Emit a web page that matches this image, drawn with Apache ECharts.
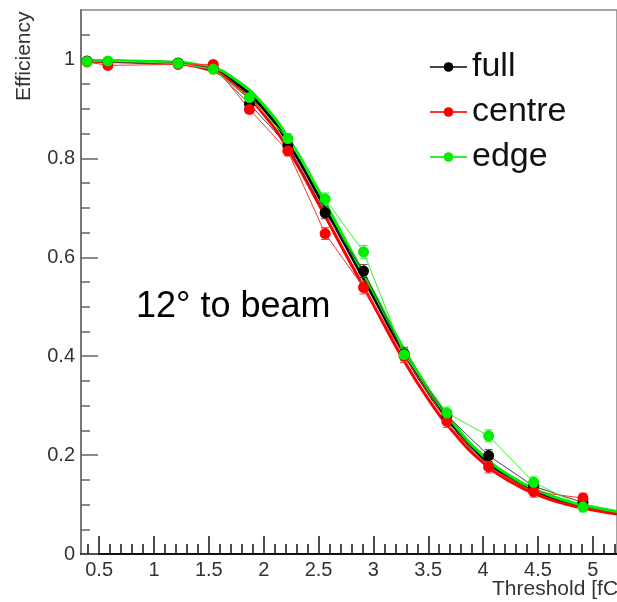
<!DOCTYPE html>
<html lang="en">
<head>
<meta charset="UTF-8">
<title>Efficiency vs threshold</title>
<script src="https://cdn.jsdelivr.net/npm/echarts@6/dist/echarts.min.js"></script>
<style>
  html, body { margin: 0; padding: 0; background: #fff; }
  #main { width: 617px; height: 602px; }
</style>
</head>
<body>
<div id="main"></div>
<script>
// measured points (threshold in fC)
var thresholds = [0.39, 0.58, 1.22, 1.54, 1.87, 2.22, 2.56, 2.91, 3.28, 3.67, 4.05, 4.46, 4.91];
var fullEff   = [0.997, 0.995, 0.993, 0.983, 0.910, 0.826, 0.690, 0.572, 0.405, 0.280, 0.199, 0.137, 0.104];
var centreEff = [0.995, 0.988, 0.990, 0.990, 0.899, 0.815, 0.648, 0.539, 0.400, 0.268, 0.176, 0.126, 0.113];
var edgeEff   = [0.996, 0.997, 0.992, 0.980, 0.923, 0.840, 0.718, 0.611, 0.403, 0.285, 0.239, 0.145, 0.095];
var effErr    = [0.003, 0.003, 0.003, 0.004, 0.008, 0.010, 0.012, 0.013, 0.013, 0.012, 0.012, 0.011, 0.010];

// fitted curves
var fitX      = [0.34, 1.0, 1.5, 1.75, 2.0, 2.25, 2.5, 2.75, 3.0, 3.25, 3.5, 3.75, 4.0, 4.25, 4.5, 4.75, 5.0, 5.22];
var fullFit   = [0.997, 0.995, 0.982, 0.952, 0.900, 0.822, 0.724, 0.622, 0.520, 0.417, 0.327, 0.252, 0.194, 0.153, 0.125, 0.106, 0.093, 0.085];
var centreFit = [0.996, 0.993, 0.979, 0.945, 0.889, 0.808, 0.708, 0.605, 0.504, 0.402, 0.313, 0.241, 0.185, 0.146, 0.119, 0.101, 0.089, 0.081];
var edgeFit   = [0.998, 0.996, 0.985, 0.958, 0.908, 0.832, 0.735, 0.632, 0.530, 0.425, 0.334, 0.258, 0.199, 0.157, 0.128, 0.108, 0.095, 0.086];

var xMajorTicks = [0.5, 1, 1.5, 2, 2.5, 3, 3.5, 4, 4.5, 5];
var xMinorTicks = [0.4, 0.6, 0.7, 0.8, 0.9, 1.1, 1.2, 1.3, 1.4, 1.6, 1.7, 1.8, 1.9, 2.1, 2.2, 2.3, 2.4,
                   2.6, 2.7, 2.8, 2.9, 3.1, 3.2, 3.3, 3.4, 3.6, 3.7, 3.8, 3.9, 4.1, 4.2, 4.3, 4.4,
                   4.6, 4.7, 4.8, 4.9, 5.1, 5.2];
var yMajorTicks = [0, 0.2, 0.4, 0.6, 0.8, 1];
var yMinorTicks = [0.05, 0.1, 0.15, 0.25, 0.3, 0.35, 0.45, 0.5, 0.55, 0.65, 0.7, 0.75, 0.85, 0.9, 0.95, 1.05];

var FONT = '"Liberation Sans", Arial, Helvetica, sans-serif';
var X_MIN = 0.335, X_MAX = 5.22, Y_MIN = 0, Y_MAX = 1.1;

function zip(xs, ys) {
    return xs.map(function (x, i) { return [x, ys[i]]; });
}

function pointSeries(name, ys, color, lineColor) {
    return {
        name: name,
        type: 'line',
        data: zip(thresholds, ys),
        symbol: 'circle',
        symbolSize: 11,
        itemStyle: { color: color },
        lineStyle: { color: lineColor, width: 1 },
        z: 3
    };
}

function errSeries(name, ys, color) {
    return {
        name: name + ' err',
        type: 'custom',
        data: thresholds.map(function (x, i) { return [x, ys[i] - effErr[i], ys[i] + effErr[i]]; }),
        encode: { x: 0, y: [1, 2] },
        renderItem: function (params, api) {
            var lo = api.coord([api.value(0), api.value(1)]);
            var hi = api.coord([api.value(0), api.value(2)]);
            var st = { stroke: color, lineWidth: 1 };
            return {
                type: 'group',
                children: [
                    { type: 'line', shape: { x1: lo[0], y1: lo[1], x2: hi[0], y2: hi[1] }, style: st },
                    { type: 'line', shape: { x1: lo[0] - 4, y1: lo[1], x2: lo[0] + 4, y2: lo[1] }, style: st },
                    { type: 'line', shape: { x1: hi[0] - 4, y1: hi[1], x2: hi[0] + 4, y2: hi[1] }, style: st }
                ]
            };
        },
        z: 3
    };
}

function fitSeries(name, ys, color) {
    return {
        name: name + ' fit',
        type: 'line',
        data: zip(fitX, ys),
        showSymbol: false,
        smooth: 0.5,
        lineStyle: { color: color, width: 3 },
        z: 2
    };
}

var myChart = echarts.init(document.getElementById('main'));

var option = {
    animation: false,
    backgroundColor: '#fff',
    grid: {
        left: 81, right: -4, top: 10, bottom: 48,
        show: true, borderColor: '#888', borderWidth: 1.5, backgroundColor: 'transparent'
    },
    legend: {
        data: ['full', 'centre', 'edge'],
        orient: 'vertical',
        left: 424,
        top: 45,
        itemWidth: 37,
        itemHeight: 12,
        itemGap: 11,
        textStyle: { fontFamily: FONT, fontSize: 34, color: '#111', lineHeight: 34 }
    },
    xAxis: [{
        type: 'value', min: X_MIN, max: X_MAX,
        splitLine: { show: false },
        axisLine: { lineStyle: { color: '#111', width: 2 } },
        axisTick: { inside: true, length: 18, customValues: xMajorTicks, lineStyle: { color: '#111', width: 1.5 } },
        axisLabel: { customValues: xMajorTicks, margin: 6, color: '#333', fontFamily: FONT, fontSize: 20 }
    }, {
        type: 'value', min: X_MIN, max: X_MAX, position: 'bottom',
        splitLine: { show: false },
        axisLine: { show: false },
        axisTick: { inside: true, length: 10, customValues: xMinorTicks, lineStyle: { color: '#111', width: 1.5 } },
        axisLabel: { show: false }
    }],
    yAxis: [{
        type: 'value', min: Y_MIN, max: Y_MAX,
        splitLine: { show: false },
        axisLine: { show: true, lineStyle: { color: '#777', width: 2 } },
        axisTick: { inside: true, length: 17, customValues: yMajorTicks, lineStyle: { color: '#666', width: 1.5 } },
        axisLabel: {
            customValues: yMajorTicks, margin: 6, color: '#333', fontFamily: FONT, fontSize: 20,
            formatter: function (v) { return String(Math.round(v * 10) / 10); }
        }
    }, {
        type: 'value', min: Y_MIN, max: Y_MAX, position: 'left',
        splitLine: { show: false },
        axisLine: { show: false },
        axisTick: { inside: true, length: 9, customValues: yMinorTicks, lineStyle: { color: '#666', width: 1.5 } },
        axisLabel: { show: false }
    }],
    graphic: [{
        type: 'text', x: 14, y: 101, rotation: Math.PI / 2,
        style: { text: 'Efficiency', fill: '#333', font: '21px ' + FONT, textAlign: 'left', textVerticalAlign: 'top' }
    }, {
        type: 'text', left: 492, top: 579,
        style: { text: 'Threshold [fC]', fill: '#333', font: '21px ' + FONT }
    }, {
        type: 'text', left: 136, top: 289,
        style: { text: '12° to beam', fill: '#000', font: '36px ' + FONT }
    }],
    series: [
        pointSeries('full', fullEff, '#000', '#444'),
        errSeries('full', fullEff, '#444'),
        fitSeries('full', fullFit, '#000'),
        pointSeries('centre', centreEff, '#ff0000', '#ff3333'),
        errSeries('centre', centreEff, '#ff3333'),
        fitSeries('centre', centreFit, '#ff0000'),
        pointSeries('edge', edgeEff, '#00ee00', '#33ee33'),
        errSeries('edge', edgeEff, '#33ee33'),
        fitSeries('edge', edgeFit, '#00ee00')
    ]
};

myChart.setOption(option);
</script>
</body>
</html>
